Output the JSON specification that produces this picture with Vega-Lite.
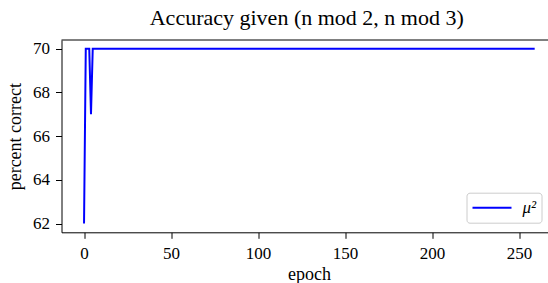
{
"$schema": "https://vega.github.io/schema/vega-lite/v6.json",
"width": 486.5,
"height": 192.3,
"autosize": {"type": "none"},
"padding": {"left": 61.5, "top": 40, "right": 0, "bottom": 50.7},
"config": {"view": {"stroke": null}, "font": "Liberation Serif", "background": "white"},
"title": {"text": "Accuracy given (n mod 2, n mod 3)", "fontSize": 22, "fontWeight": "normal", "font": "Liberation Serif", "color": "black", "offset": 10, "anchor": "middle", "dx": 2},
"layer": [
{
"data": {"values": [
{"epoch":0,"acc":62},{"epoch":1,"acc":70},{"epoch":2,"acc":70},{"epoch":3,"acc":70},{"epoch":4,"acc":67},{"epoch":5,"acc":70},{"epoch":6,"acc":70},{"epoch":7,"acc":70},{"epoch":8,"acc":70},{"epoch":9,"acc":70},
{"epoch":10,"acc":70},{"epoch":11,"acc":70},{"epoch":12,"acc":70},{"epoch":13,"acc":70},{"epoch":14,"acc":70},{"epoch":15,"acc":70},{"epoch":16,"acc":70},{"epoch":17,"acc":70},{"epoch":18,"acc":70},{"epoch":19,"acc":70},
{"epoch":20,"acc":70},{"epoch":21,"acc":70},{"epoch":22,"acc":70},{"epoch":23,"acc":70},{"epoch":24,"acc":70},{"epoch":25,"acc":70},{"epoch":26,"acc":70},{"epoch":27,"acc":70},{"epoch":28,"acc":70},{"epoch":29,"acc":70},
{"epoch":30,"acc":70},{"epoch":31,"acc":70},{"epoch":32,"acc":70},{"epoch":33,"acc":70},{"epoch":34,"acc":70},{"epoch":35,"acc":70},{"epoch":36,"acc":70},{"epoch":37,"acc":70},{"epoch":38,"acc":70},{"epoch":39,"acc":70},
{"epoch":40,"acc":70},{"epoch":41,"acc":70},{"epoch":42,"acc":70},{"epoch":43,"acc":70},{"epoch":44,"acc":70},{"epoch":45,"acc":70},{"epoch":46,"acc":70},{"epoch":47,"acc":70},{"epoch":48,"acc":70},{"epoch":49,"acc":70},
{"epoch":50,"acc":70},{"epoch":51,"acc":70},{"epoch":52,"acc":70},{"epoch":53,"acc":70},{"epoch":54,"acc":70},{"epoch":55,"acc":70},{"epoch":56,"acc":70},{"epoch":57,"acc":70},{"epoch":58,"acc":70},{"epoch":59,"acc":70},
{"epoch":60,"acc":70},{"epoch":61,"acc":70},{"epoch":62,"acc":70},{"epoch":63,"acc":70},{"epoch":64,"acc":70},{"epoch":65,"acc":70},{"epoch":66,"acc":70},{"epoch":67,"acc":70},{"epoch":68,"acc":70},{"epoch":69,"acc":70},
{"epoch":70,"acc":70},{"epoch":71,"acc":70},{"epoch":72,"acc":70},{"epoch":73,"acc":70},{"epoch":74,"acc":70},{"epoch":75,"acc":70},{"epoch":76,"acc":70},{"epoch":77,"acc":70},{"epoch":78,"acc":70},{"epoch":79,"acc":70},
{"epoch":80,"acc":70},{"epoch":81,"acc":70},{"epoch":82,"acc":70},{"epoch":83,"acc":70},{"epoch":84,"acc":70},{"epoch":85,"acc":70},{"epoch":86,"acc":70},{"epoch":87,"acc":70},{"epoch":88,"acc":70},{"epoch":89,"acc":70},
{"epoch":90,"acc":70},{"epoch":91,"acc":70},{"epoch":92,"acc":70},{"epoch":93,"acc":70},{"epoch":94,"acc":70},{"epoch":95,"acc":70},{"epoch":96,"acc":70},{"epoch":97,"acc":70},{"epoch":98,"acc":70},{"epoch":99,"acc":70},
{"epoch":100,"acc":70},{"epoch":101,"acc":70},{"epoch":102,"acc":70},{"epoch":103,"acc":70},{"epoch":104,"acc":70},{"epoch":105,"acc":70},{"epoch":106,"acc":70},{"epoch":107,"acc":70},{"epoch":108,"acc":70},{"epoch":109,"acc":70},
{"epoch":110,"acc":70},{"epoch":111,"acc":70},{"epoch":112,"acc":70},{"epoch":113,"acc":70},{"epoch":114,"acc":70},{"epoch":115,"acc":70},{"epoch":116,"acc":70},{"epoch":117,"acc":70},{"epoch":118,"acc":70},{"epoch":119,"acc":70},
{"epoch":120,"acc":70},{"epoch":121,"acc":70},{"epoch":122,"acc":70},{"epoch":123,"acc":70},{"epoch":124,"acc":70},{"epoch":125,"acc":70},{"epoch":126,"acc":70},{"epoch":127,"acc":70},{"epoch":128,"acc":70},{"epoch":129,"acc":70},
{"epoch":130,"acc":70},{"epoch":131,"acc":70},{"epoch":132,"acc":70},{"epoch":133,"acc":70},{"epoch":134,"acc":70},{"epoch":135,"acc":70},{"epoch":136,"acc":70},{"epoch":137,"acc":70},{"epoch":138,"acc":70},{"epoch":139,"acc":70},
{"epoch":140,"acc":70},{"epoch":141,"acc":70},{"epoch":142,"acc":70},{"epoch":143,"acc":70},{"epoch":144,"acc":70},{"epoch":145,"acc":70},{"epoch":146,"acc":70},{"epoch":147,"acc":70},{"epoch":148,"acc":70},{"epoch":149,"acc":70},
{"epoch":150,"acc":70},{"epoch":151,"acc":70},{"epoch":152,"acc":70},{"epoch":153,"acc":70},{"epoch":154,"acc":70},{"epoch":155,"acc":70},{"epoch":156,"acc":70},{"epoch":157,"acc":70},{"epoch":158,"acc":70},{"epoch":159,"acc":70},
{"epoch":160,"acc":70},{"epoch":161,"acc":70},{"epoch":162,"acc":70},{"epoch":163,"acc":70},{"epoch":164,"acc":70},{"epoch":165,"acc":70},{"epoch":166,"acc":70},{"epoch":167,"acc":70},{"epoch":168,"acc":70},{"epoch":169,"acc":70},
{"epoch":170,"acc":70},{"epoch":171,"acc":70},{"epoch":172,"acc":70},{"epoch":173,"acc":70},{"epoch":174,"acc":70},{"epoch":175,"acc":70},{"epoch":176,"acc":70},{"epoch":177,"acc":70},{"epoch":178,"acc":70},{"epoch":179,"acc":70},
{"epoch":180,"acc":70},{"epoch":181,"acc":70},{"epoch":182,"acc":70},{"epoch":183,"acc":70},{"epoch":184,"acc":70},{"epoch":185,"acc":70},{"epoch":186,"acc":70},{"epoch":187,"acc":70},{"epoch":188,"acc":70},{"epoch":189,"acc":70},
{"epoch":190,"acc":70},{"epoch":191,"acc":70},{"epoch":192,"acc":70},{"epoch":193,"acc":70},{"epoch":194,"acc":70},{"epoch":195,"acc":70},{"epoch":196,"acc":70},{"epoch":197,"acc":70},{"epoch":198,"acc":70},{"epoch":199,"acc":70},
{"epoch":200,"acc":70},{"epoch":201,"acc":70},{"epoch":202,"acc":70},{"epoch":203,"acc":70},{"epoch":204,"acc":70},{"epoch":205,"acc":70},{"epoch":206,"acc":70},{"epoch":207,"acc":70},{"epoch":208,"acc":70},{"epoch":209,"acc":70},
{"epoch":210,"acc":70},{"epoch":211,"acc":70},{"epoch":212,"acc":70},{"epoch":213,"acc":70},{"epoch":214,"acc":70},{"epoch":215,"acc":70},{"epoch":216,"acc":70},{"epoch":217,"acc":70},{"epoch":218,"acc":70},{"epoch":219,"acc":70},
{"epoch":220,"acc":70},{"epoch":221,"acc":70},{"epoch":222,"acc":70},{"epoch":223,"acc":70},{"epoch":224,"acc":70},{"epoch":225,"acc":70},{"epoch":226,"acc":70},{"epoch":227,"acc":70},{"epoch":228,"acc":70},{"epoch":229,"acc":70},
{"epoch":230,"acc":70},{"epoch":231,"acc":70},{"epoch":232,"acc":70},{"epoch":233,"acc":70},{"epoch":234,"acc":70},{"epoch":235,"acc":70},{"epoch":236,"acc":70},{"epoch":237,"acc":70},{"epoch":238,"acc":70},{"epoch":239,"acc":70},
{"epoch":240,"acc":70},{"epoch":241,"acc":70},{"epoch":242,"acc":70},{"epoch":243,"acc":70},{"epoch":244,"acc":70},{"epoch":245,"acc":70},{"epoch":246,"acc":70},{"epoch":247,"acc":70},{"epoch":248,"acc":70},{"epoch":249,"acc":70},
{"epoch":250,"acc":70},{"epoch":251,"acc":70},{"epoch":252,"acc":70},{"epoch":253,"acc":70},{"epoch":254,"acc":70},{"epoch":255,"acc":70},{"epoch":256,"acc":70},{"epoch":257,"acc":70},{"epoch":258,"acc":70},{"epoch":259,"acc":70}
]},
"mark": {"type": "line", "strokeWidth": 2, "clip": true},
"encoding": {
"x": {"field": "epoch", "type": "quantitative",
"scale": {"domain": [-12.95, 266.65], "nice": false, "zero": false},
"axis": {"values": [0, 50, 100, 150, 200, 250], "title": "epoch", "grid": false, "domainColor": "black", "domainWidth": 1, "tickColor": "black", "tickSize": 6, "tickWidth": 1, "labelFontSize": 17, "labelColor": "black", "labelPadding": 7, "labelFont": "Liberation Serif", "titleFont": "Liberation Serif", "titleFontSize": 18, "titleFontWeight": "normal", "titleColor": "black", "titlePadding": 4, "titleX": 247.5}},
"y": {"field": "acc", "type": "quantitative",
"scale": {"domain": [61.6, 70.4], "nice": false, "zero": false},
"axis": {"values": [62, 64, 66, 68, 70], "title": "percent correct", "grid": false, "domainColor": "black", "domainWidth": 1, "tickColor": "black", "tickSize": 6, "tickWidth": 1, "labelFontSize": 17, "labelColor": "black", "labelPadding": 6, "labelFont": "Liberation Serif", "titleFont": "Liberation Serif", "titleFontSize": 18, "titleFontWeight": "normal", "titleColor": "black", "titlePadding": 8}},
"color": {"datum": "μ²", "type": "nominal", "scale": {"range": ["#0000ff"]},
"legend": {"title": null, "orient": "none", "legendX": 405, "legendY": 152.7, "symbolType": "stroke", "symbolSize": 1521, "symbolStrokeWidth": 2, "clipHeight": 20, "labelFontSize": 17, "labelFont": "Liberation Serif", "labelFontStyle": "italic", "labelColor": "black", "strokeColor": "#cccccc", "fillColor": "white", "cornerRadius": 3, "padding": 5, "labelOffset": 10}}
}
},
{
"data": {"values": [{}]},
"mark": {"type": "rule", "color": "black", "strokeWidth": 1},
"encoding": {"y": {"datum": 70.4}}
}
]
}
